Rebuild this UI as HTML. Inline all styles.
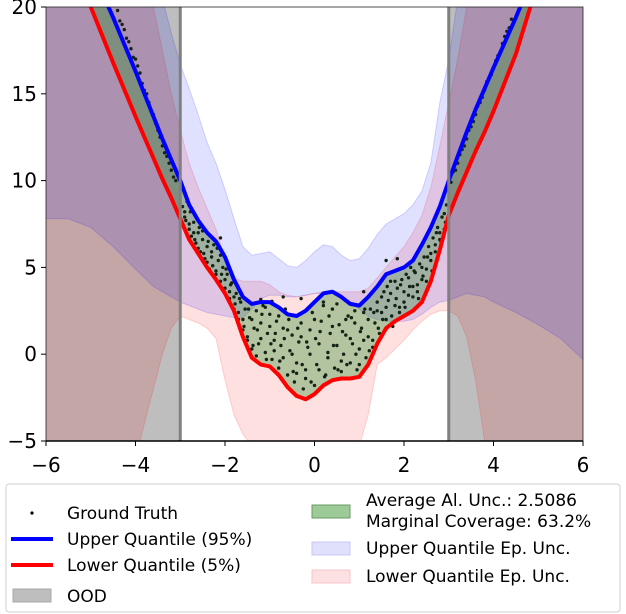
<!DOCTYPE html>
<html><head><meta charset="utf-8"><style>
html,body{margin:0;padding:0;background:#fff;}
svg{display:block;font-family:"DejaVu Sans","Liberation Sans",sans-serif;}
</style></head><body>
<svg id="chart" width="626" height="614" viewBox="0 0 626 614">
<defs><clipPath id="plotclip"><rect x="46" y="7" width="537" height="434"/></clipPath></defs>
<g id="plot" clip-path="url(#plotclip)"></g>
<g id="axes"></g>
<g id="legend">
<rect x="6" y="484" width="614" height="128" rx="3" fill="#fff" stroke="#d0d0d0"/>
<g><circle cx="32" cy="513" r="1.6" fill="#000"/><text x="67" y="519" font-size="17">Ground Truth</text></g>
<g><rect x="11" y="537" width="42" height="4" fill="#0000ff"/><text x="67" y="545" font-size="17">Upper Quantile (95%)</text></g>
<g><rect x="11" y="563" width="42" height="4" fill="#ff0000"/><text x="67" y="571" font-size="17">Lower Quantile (5%)</text></g>
<g><rect x="13" y="589" width="38" height="13" fill="#bebebe" stroke="#a8a8a8"/><text x="67" y="602" font-size="17">OOD</text></g>
<g><rect x="312" y="505" width="38" height="13" fill="#9ccb98" stroke="#6a9a66"/><text x="366" y="506" font-size="17">Average Al. Unc.: 2.5086</text><text x="366" y="527" font-size="17">Marginal Coverage: 63.2%</text></g>
<g><rect x="312" y="542" width="38" height="13" fill="#e0e0fc" stroke="#c8c8f8"/><text x="366" y="554" font-size="17">Upper Quantile Ep. Unc.</text></g>
<g><rect x="312" y="570" width="38" height="13" fill="#fde0e2" stroke="#f8c4c8"/><text x="366" y="582" font-size="17">Lower Quantile Ep. Unc.</text></g>
</g>
</svg>
<script>
const X = [-6,-5.5,-5,-4.5,-4,-3.8,-3.6,-3.4,-3.2,-3,-2.8,-2.6,-2.4,-2.2,-2,-1.8,-1.6,-1.4,-1.2,-1,-0.8,-0.6,-0.4,-0.2,0,0.2,0.4,0.6,0.8,1,1.2,1.4,1.6,1.8,2,2.2,2.4,2.6,2.8,3,3.2,3.4,3.6,3.8,4,4.5,5,5.5,6];
const upperQ = [27,24.6,22.3,19.4,16.3,15.0,13.7,12.4,11.2,10,8.6,7.7,7.0,6.5,5.6,4.3,3.3,2.9,3.0,3.0,2.7,2.3,2.2,2.5,3.0,3.5,3.6,3.3,2.9,2.8,3.3,3.9,4.6,4.8,5.0,5.4,6.3,7.3,8.5,10,11.4,12.8,14.1,15.3,16.5,19.4,22.5,25,28];
const lowerQ = [26,23.2,20,16.8,13.7,12.5,11.3,10.1,9.0,7.8,6.6,5.8,5.0,4.3,3.5,2.5,1.0,-0.2,-0.6,-0.7,-1.2,-1.9,-2.4,-2.6,-2.3,-1.8,-1.5,-1.4,-1.4,-1.3,-0.6,0.6,1.5,1.9,2.2,2.5,3.0,4.2,6.0,8.0,9.3,10.5,11.7,12.8,14,17.3,21.5,24.5,28];
const upperEpTop = [30,30,30,30,30,30,30,20.5,18.5,16.7,15.3,13.8,12.2,11,9.5,7.8,6.2,5.7,5.8,5.9,5.5,5.1,5.0,5.4,5.9,6.3,6.2,5.7,5.4,5.5,6.1,6.9,7.5,7.8,8.1,8.6,9.4,11,14.5,17,20.5,30,30,30,30,30,30,30,30];
const upperEpBot = [7.8,7.8,7.3,6.2,4.9,4.4,3.9,3.6,3.3,3.0,2.8,2.6,2.4,2.3,2.2,2.1,2.1,2.6,3.2,3.4,3.4,3.3,3.3,3.4,3.5,3.5,3.5,3.3,3.0,2.6,2.2,2.0,1.9,1.9,1.9,2.0,2.3,2.7,3.0,3.1,3.3,3.5,3.4,3.3,3.0,2.4,1.7,0.9,-0.3];
const lowerEpTop = [30,30,30,30,30,30,20,17.5,15,12.9,11,9.6,8.4,7.2,5.5,4.4,4.2,4.2,4.2,4.0,3.6,3.4,3.3,3.4,3.5,3.6,3.6,3.6,3.6,3.6,3.8,4.4,5.0,5.6,6.2,7.0,8.0,9.6,12,14.5,17,20,30,30,30,30,30,30,30];
const lowerEpBot = [-8,-8,-8,-8,-6,-4,-2,0,1.5,2.2,2.0,1.8,1.5,0.9,-1.5,-3.5,-4.6,-5.3,-5.5,-5.5,-5.5,-5.5,-5.5,-5.5,-5.5,-5.5,-5.5,-5.5,-5.5,-5.3,-3.5,-0.6,-0.2,0.3,0.8,1.4,1.9,2.3,2.5,2.5,2.2,1.0,-1.5,-5,-8,-8,-8,-8,-8];
const oodBounds = [-3, 3];
const gtX = [-4.4,-4.3,-4.2,-4.1,-4.0,-3.9,-3.8,-3.7,-3.6,-3.5,-3.4,-3.3,-3.2,-3.1,-2.95,-2.9,-2.85,-2.8,-2.75,-2.7,-2.65,-2.6,-2.55,-2.5,-2.45,-2.4,-2.35,-2.3,-2.25,-2.2,-2.15,-2.1,-2.05,-2.0,-1.95,-1.9,-1.85,-1.8,-1.75,-1.7,-1.65,-1.6,-1.55,-1.5,-1.45,-1.4,-1.35,-1.3,-1.25,-1.2,-1.15,-1.1,-1.05,-1.0,-0.95,-0.9,-0.85,-0.8,-0.75,-0.7,-0.65,-0.6,-0.55,-0.5,-0.45,-0.4,-0.35,-0.3,-0.25,-0.2,-0.15,-0.1,-0.05,0,0.05,0.1,0.15,0.2,0.25,0.3,0.35,0.4,0.45,0.5,0.55,0.6,0.65,0.7,0.75,0.8,0.85,0.9,0.95,1.0,1.05,1.1,1.15,1.2,1.25,1.3,1.35,1.4,1.45,1.5,1.55,1.6,1.65,1.7,1.75,1.8,1.85,1.9,1.95,2.0,2.05,2.1,2.15,2.2,2.25,2.3,2.35,2.4,2.45,2.5,2.55,2.6,2.65,2.7,2.75,2.8,2.85,2.9,2.95,-1.2,-0.95,-0.7,-0.3,1.6,1.85,-2.1,1.1,3.1,3.2,3.3,3.4,3.5,3.6,3.7,3.8,3.9,4.0,4.1,4.2,4.3,4.4];
const gtY = [19.8,19,18.2,17.6,17,16.2,15.2,14.5,13.8,12.9,12,11.4,10.6,10,8.5,7.9,8.8,7.2,6.8,7.6,6.4,7.0,5.9,6.6,5.5,6.2,4.9,5.6,6.3,4.6,5.4,4.2,5.0,3.8,4.6,3.2,4.1,2.6,3.5,2.0,3.0,1.4,2.6,0.8,2.1,0.3,1.5,2.5,0.6,1.8,2.8,0.1,1.2,2.3,-0.3,0.8,1.9,-0.8,0.5,1.5,2.6,-1.2,0.2,1.1,-1.6,-0.5,0.7,1.8,-2.0,-0.9,0.4,1.4,2.4,-1.8,-0.6,0.6,1.9,3.0,-1.2,0.1,1.2,2.6,-0.8,0.5,1.7,-1.0,0.0,1.1,2.2,-0.5,0.6,1.8,-0.9,0.3,1.5,2.4,-0.2,1.0,2.6,0.4,1.8,3.0,1.2,2.4,3.6,2.0,3.1,4.2,1.6,2.8,3.8,2.4,4.3,3.0,4.6,3.4,5.0,3.9,4.7,3.6,5.2,4.3,5.6,4.9,6.2,5.4,6.7,5.9,7.3,6.6,7.9,7.2,8.6,3.15,3.05,3.3,3.2,5.4,5.5,6.7,3.6,10.5,11,11.8,12.4,13.1,13.8,14.5,15.2,15.9,16.5,17.2,17.9,18.6,19.3];
const gtX2 = [-2.9,-2.8,-2.7,-2.6,-2.5,-2.4,-2.3,-2.2,-2.1,-2.0,-1.9,-1.8,-1.7,-1.6,-1.5,-1.4,-1.3,-1.2,-1.1,-1.0,-0.9,-0.8,-0.7,-0.6,-0.5,-0.4,-0.3,-0.2,-0.1,0,0.1,0.2,0.3,0.4,0.5,0.6,0.7,0.8,0.9,1.0,1.1,1.2,1.3,1.4,1.5,1.6,1.7,1.8,1.9,2.0,2.1,2.2,2.3,2.4,2.5,2.6,2.7,2.8,2.9,-2.875,-2.775,-2.675,-2.575,-2.475,-2.375,-2.275,-2.175,-2.075,-1.975,-1.875,-1.775,-1.675,-1.575,-1.475,-1.375,-1.275,-1.175,-1.075,-0.975,-0.875,-0.775,-0.675,-0.575,-0.475,-0.375,-0.275,-0.175,-0.075,0.025,0.125,0.225,0.325,0.425,0.525,0.625,0.725,0.825,0.925,1.025,1.125,1.225,1.325,1.425,1.525,1.625,1.725,1.825,1.925,2.025,2.125,2.225,2.325,2.425,2.525,2.625,2.725,2.825,2.925,-4.35,-4.25,-4.15,-4.05,-3.95,-3.85,-3.75,-3.65,-3.55,-3.45,-3.35,-3.25,-3.15,3.05,3.15,3.25,3.35,3.45,3.55,3.65,3.75,3.85,3.95,4.05,4.15,4.25,4.35];
const gtY2 = [8.2,7.5,7.0,6.1,7.1,5.3,5.9,4.8,5.7,4.3,3.6,3.3,2.4,2.0,1.0,2.0,-0.1,0.9,2.7,1.6,0.2,2.2,-0.2,1.4,0.0,-1.1,1.0,-1.4,0.0,2.0,-0.9,2.8,-0.2,1.6,2.9,-0.4,2.0,0.9,2.5,-0.6,0.8,2.0,0.8,2.5,3.3,2.7,3.5,4.2,2.7,3.6,4.4,3.3,4.0,5.0,4.2,5.8,6.3,7.0,8.1,7.7,8.2,6.6,7.3,5.8,6.5,5.1,6.1,4.6,4.9,4.0,2.9,3.2,1.6,2.6,0.5,1.4,2.3,-0.3,0.6,1.2,-0.4,0.9,2.0,-1.0,1.5,-0.6,0.7,-1.6,0.9,1.3,-1.3,2.2,0.5,-0.9,1.3,-0.6,2.1,0.0,1.3,2.6,0.2,2.4,1.5,2.0,3.9,2.2,3.2,4.0,2.7,3.9,4.8,3.2,4.5,5.6,4.8,7.0,6.5,7.6,19.2,18.7,18.0,17.1,16.6,15.6,15.0,14.0,13.3,12.5,11.6,11.0,10.2,9.9,10.6,11.5,12.0,12.9,13.4,14.3,14.8,15.7,16.1,16.9,17.4,18.3,18.8];
const xTicks = [-6,-4,-2,0,2,4,6];
const yTicks = [-5,0,5,10,15,20];
const xTickLabels = ["−6","−4","−2","0","2","4","6"];
const yTickLabels = ["−5","0","5","10","15","20"];

const NS = "http://www.w3.org/2000/svg";
function sx(v){ return 46 + (v + 6) * 537 / 12; }
function sy(v){ return 441 - (v + 5) * 434 / 25; }
const plot = document.getElementById('plot');
const axes = document.getElementById('axes');
function mk(tag, attrs, parent){
  const e = document.createElementNS(NS, tag);
  for (const k in attrs) e.setAttribute(k, attrs[k]);
  parent.appendChild(e); return e;
}
function bandPath(top, bot){
  let d = '';
  for (let i = 0; i < X.length; i++) d += (i ? 'L' : 'M') + sx(X[i]).toFixed(1) + ',' + sy(top[i]).toFixed(1);
  for (let i = X.length - 1; i >= 0; i--) d += 'L' + sx(X[i]).toFixed(1) + ',' + sy(bot[i]).toFixed(1);
  return d + 'Z';
}
function linePath(arr){
  let d = '';
  for (let i = 0; i < X.length; i++) d += (i ? 'L' : 'M') + sx(X[i]).toFixed(1) + ',' + sy(arr[i]).toFixed(1);
  return d;
}
const oodL = mk('rect', {x: sx(-6), y: sy(20), width: sx(oodBounds[0]) - sx(-6), height: sy(-5) - sy(20), fill: '#bebebe'}, plot);


const oodR = mk('rect', {x: sx(oodBounds[1]), y: sy(20), width: sx(6) - sx(oodBounds[1]), height: sy(-5) - sy(20), fill: '#bebebe'}, plot);


const redBand = mk('path', {d: bandPath(lowerEpTop, lowerEpBot), fill: 'rgba(255,0,0,0.12)', stroke: 'rgba(255,0,0,0.15)', 'stroke-width': 1}, plot);


const blueBand = mk('path', {d: bandPath(upperEpTop, upperEpBot), fill: 'rgba(0,0,255,0.12)', stroke: 'rgba(0,0,255,0.15)', 'stroke-width': 1}, plot);


const green = mk('path', {d: bandPath(upperQ, lowerQ), fill: 'rgba(40,140,40,0.35)'}, plot);


function drawPoints(xs, ys){
  for (let i = 0; i < xs.length; i++){
    const c = mk('circle', {cx: sx(xs[i]).toFixed(1), cy: sy(ys[i]).toFixed(1), r: 1.7, fill: '#142414'}, plot);
    
    
  }
}
drawPoints(gtX, gtY);
drawPoints(gtX2, gtY2);
const up = mk('path', {d: linePath(upperQ), fill: 'none', stroke: '#0000ff', 'stroke-width': 4, 'stroke-linejoin': 'round'}, plot);


const lo = mk('path', {d: linePath(lowerQ), fill: 'none', stroke: '#ff0000', 'stroke-width': 4, 'stroke-linejoin': 'round'}, plot);


for (const b of oodBounds){
  const l = mk('line', {x1: sx(b), x2: sx(b), y1: sy(20), y2: sy(-5), stroke: '#808080', 'stroke-width': 3}, plot);
  
  
}
const frame = mk('rect', {x: 46, y: 7, width: 537, height: 434, fill: 'none', stroke: '#222', 'stroke-width': 0.8}, axes);


const xl = mk('line', {x1: 46, x2: 583, y1: 441, y2: 441, stroke: '#000', 'stroke-width': 1.5}, axes);


for (let i = 0; i < xTicks.length; i++){
  const x = sx(xTicks[i]);
  const t = mk('line', {x1: x, x2: x, y1: 441, y2: 446, stroke: '#000', 'stroke-width': 1}, axes);
  
  
  const tx = mk('text', {x: x, y: 472, 'font-size': 20, 'text-anchor': 'middle', fill: '#000'}, axes);
  tx.textContent = xTickLabels[i];
  
  
}
for (let i = 0; i < yTicks.length; i++){
  const y = sy(yTicks[i]);
  const t = mk('line', {x1: 41, x2: 46, y1: y, y2: y, stroke: '#000', 'stroke-width': 1}, axes);
  
  
  const tx = mk('text', {x: 37, y: y + 7, 'font-size': 20, 'text-anchor': 'end', fill: '#000'}, axes);
  tx.textContent = yTickLabels[i];
  
  
}
</script>
</body></html>
